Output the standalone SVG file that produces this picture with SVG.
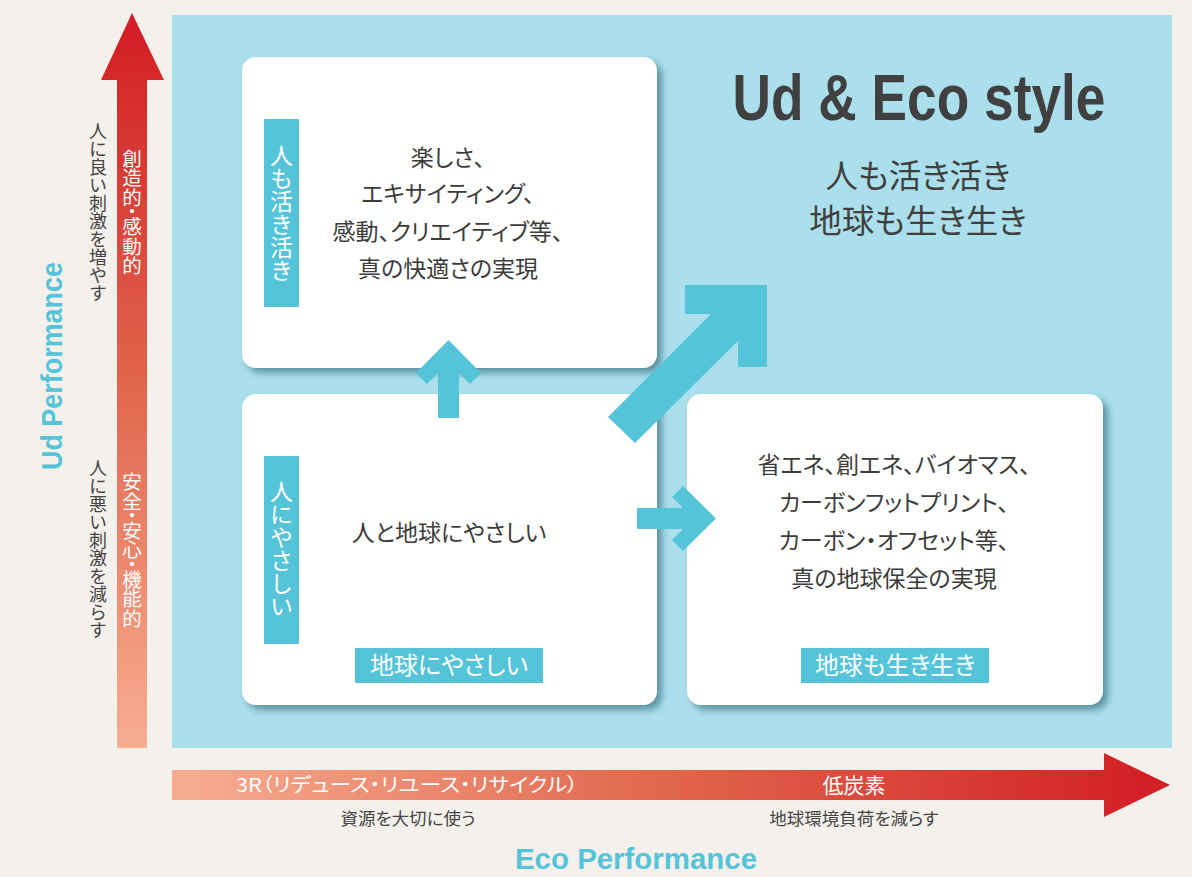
<svg xmlns="http://www.w3.org/2000/svg" width="1192" height="877" viewBox="0 0 1192 877">
<defs>
<linearGradient id="gv" x1="0" y1="13" x2="0" y2="748" gradientUnits="userSpaceOnUse">
<stop offset="0" stop-color="#d21c24"/>
<stop offset="0.5" stop-color="#e0654b"/>
<stop offset="1" stop-color="#f7ad92"/>
</linearGradient>
<linearGradient id="gh" x1="172" y1="0" x2="1172" y2="0" gradientUnits="userSpaceOnUse">
<stop offset="0" stop-color="#f7ad92"/>
<stop offset="0.5" stop-color="#e0654b"/>
<stop offset="1" stop-color="#d21c24"/>
</linearGradient>
<filter id="sh" x="-10%" y="-10%" width="125%" height="125%">
<feDropShadow dx="5" dy="5" stdDeviation="3.5" flood-color="#336a7c" flood-opacity="0.65"/>
</filter>
<style>
.jp{font-family:"Noto Sans CJK JP","Noto Sans",sans-serif;font-feature-settings:"palt";}
.body{font-size:23px;fill:#3c3c3c;text-anchor:middle;}
.vt{writing-mode:vertical-rl;text-anchor:middle;}
.vp{font-feature-settings:"vpal";}
.box{fill:#ffffff;filter:url(#sh);}
.bar{fill:#55c4d8;}
.wt{fill:#ffffff;}
.en{font-family:"Liberation Sans Narrow","Liberation Sans",sans-serif;font-weight:bold;}
</style>
</defs>
<rect x="0" y="0" width="1192" height="877" fill="#f4f1ed"/>
<rect id="panel" x="172" y="15" width="1000" height="733" fill="#abdfeb"/>

<g id="ud-axis">
<polygon points="117,748 117,80 101,80 132,13 164,80 147,80 147,748" fill="url(#gv)"/>
<text class="jp vt vp wt" x="132" y="212" font-size="19.5">創造的・感動的</text>
<text class="jp vt vp wt" x="132" y="550" font-size="19.5">安全・安心・機能的</text>
<text class="jp vt" x="98" y="212" font-size="18" fill="#444">人に良い刺激を増やす</text>
<text class="jp vt" x="98" y="549" font-size="18" fill="#444">人に悪い刺激を減らす</text>
<text class="en" transform="translate(62,366) rotate(-90)" text-anchor="middle" font-size="30" fill="#55c4d8" textLength="208" lengthAdjust="spacingAndGlyphs">Ud Performance</text>
</g>

<g id="eco-axis">
<polygon points="172,770 1104,770 1104,753 1170,785 1104,817 1104,800 172,800" fill="url(#gh)"/>
<text class="jp wt" x="407" y="792" font-size="19" text-anchor="middle" textLength="342" lengthAdjust="spacingAndGlyphs">3R（リデュース・リユース・リサイクル）</text>
<text class="jp wt" x="854" y="793" font-size="21" text-anchor="middle">低炭素</text>
<text class="jp" x="408" y="825" font-size="17.5" fill="#444" text-anchor="middle">資源を大切に使う</text>
<text class="jp" x="854" y="825" font-size="17.5" fill="#444" text-anchor="middle">地球環境負荷を減らす</text>
<text class="en" x="636" y="869" font-size="30" fill="#55c4d8" text-anchor="middle" textLength="242" lengthAdjust="spacingAndGlyphs">Eco Performance</text>
</g>

<g id="title">
<text class="en" x="919" y="120" font-size="65" fill="#404040" text-anchor="middle" textLength="373" lengthAdjust="spacingAndGlyphs">Ud &amp; Eco style</text>
<text class="jp" x="918" y="188" font-size="32.5" fill="#404040" text-anchor="middle">人も活き活き</text>
<text class="jp" x="918" y="233" font-size="32.5" fill="#404040" text-anchor="middle">地球も生き生き</text>
</g>

<g id="box-top-left">
<rect class="box" x="242" y="57" width="415" height="311" rx="14"/>
<rect class="bar" x="264" y="119" width="35" height="188"/>
<text class="jp vt wt" x="281.5" y="213" font-size="23">人も活き活き</text>
<text class="jp body" x="448" y="166">楽しさ、</text>
<text class="jp body" x="448" y="202">エキサイティング、</text>
<text class="jp body" x="448" y="240">感動、クリエイティブ等、</text>
<text class="jp body" x="448" y="277">真の快適さの実現</text>
</g>

<g id="box-bottom-left">
<rect class="box" x="242" y="394" width="415" height="311" rx="14"/>
<rect class="bar" x="264" y="456" width="35" height="188"/>
<text class="jp vt wt" x="281.5" y="549" font-size="23">人にやさしい</text>
<text class="jp body" x="449" y="541">人と地球にやさしい</text>
<rect class="bar" x="355" y="648" width="188" height="35"/>
<text class="jp wt" x="449" y="674" font-size="24" text-anchor="middle">地球にやさしい</text>
</g>

<g id="box-bottom-right">
<rect class="box" x="687" y="394" width="416" height="311" rx="14"/>
<text class="jp body" x="894" y="473">省エネ、創エネ、バイオマス、</text>
<text class="jp body" x="894" y="511">カーボンフットプリント、</text>
<text class="jp body" x="894" y="549">カーボン・オフセット等、</text>
<text class="jp body" x="894" y="587">真の地球保全の実現</text>
<rect class="bar" x="801" y="648" width="188" height="35"/>
<text class="jp wt" x="895" y="674" font-size="24" text-anchor="middle">地球も生き生き</text>
</g>

<g id="connectors" fill="#55c4d8">
<polygon points="438,418 438,373 427,384 416,373 448.5,340 481,373 470,384 459,373 459,418"/>
<polygon points="637,508 683,508 672,497 683,486 716,518.5 683,551 672,540 683,529 637,529"/>
<polygon points="608,417 711,314 685,314 685,285 767,285 767,367 738,367 738,341 635,443"/>
</g>
</svg>
